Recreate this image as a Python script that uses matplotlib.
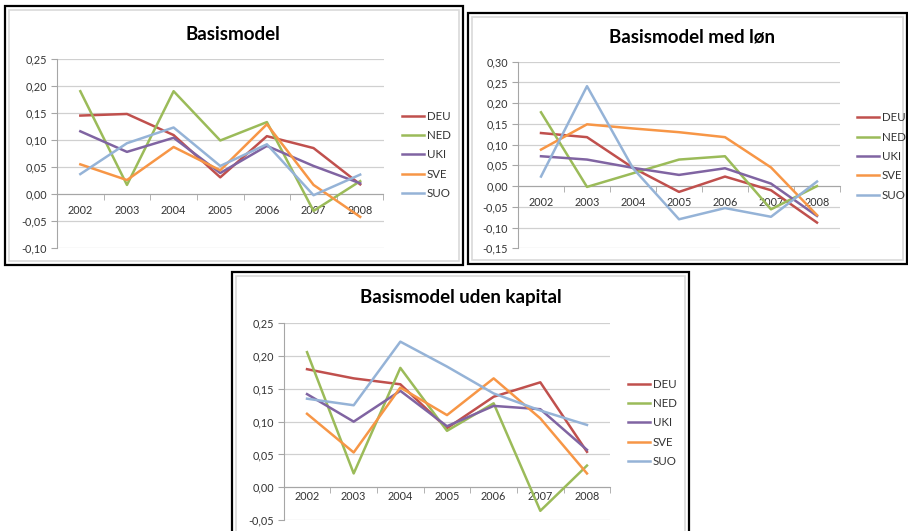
import matplotlib
matplotlib.use("Agg")
import matplotlib.pyplot as plt
import numpy as np
from matplotlib.patches import Rectangle
from matplotlib.ticker import FuncFormatter

plt.rcParams['font.family'] = ['Lato', 'DejaVu Sans']

# data
years = ['2002', '2003', '2004', '2005', '2006', '2007', '2008']
countries = ['DEU', 'NED', 'UKI', 'SVE', 'SUO']
colors = ['#C0504D', '#9BBB59', '#8064A2', '#F79646', '#95B3D7']

# Basismodel
basis = [
    [0.145, 0.148, 0.109, 0.031, 0.107, 0.085, 0.018],   # DEU
    [0.190, 0.017, 0.190, 0.099, 0.133, -0.031, 0.024],  # NED
    [0.116, 0.078, 0.104, 0.039, 0.089, 0.052, 0.020],   # UKI
    [0.055, 0.026, 0.087, 0.044, 0.129, 0.017, -0.042],  # SVE
    [0.037, 0.094, 0.123, 0.052, 0.092, -0.002, 0.036],  # SUO
]

# Basismodel med løn
med_loen = [
    [0.128, 0.118, 0.044, -0.014, 0.023, -0.010, -0.088],
    [0.178, -0.002, 0.031, 0.064, 0.072, -0.056, 0.000],
    [0.072, 0.064, 0.044, 0.027, 0.043, 0.006, -0.072],
    [0.088, 0.149, 0.139, 0.130, 0.118, 0.045, -0.070],
    [0.023, 0.241, 0.043, -0.080, -0.053, -0.074, 0.011],
]

# Basismodel uden kapital
uden_kapital = [
    [0.180, 0.166, 0.157, 0.090, 0.138, 0.160, 0.054],
    [0.206, 0.021, 0.182, 0.086, 0.128, -0.036, 0.033],
    [0.142, 0.100, 0.147, 0.093, 0.124, 0.119, 0.057],
    [0.112, 0.053, 0.152, 0.110, 0.166, 0.105, 0.021],
    [0.135, 0.125, 0.222, 0.184, 0.143, 0.117, 0.095],
]

W, H = 908, 531
fig = plt.figure(figsize=(W / 100, H / 100), dpi=100)
fig.patch.set_facecolor('white')

TICK_FS = 7.8
LEG_FS = 8.3
TITLE_FS = 13.5


def px_axes(l, t, r, b):
    return fig.add_axes([l / W, 1 - b / H, (r - l) / W, (b - t) / H])


def frame(l, t, r, b):
    # black outer box + light grey excel chart border
    fig.patches.append(Rectangle((l / W, 1 - b / H), (r - l) / W, (b - t) / H,
                                 transform=fig.transFigure, fill=False,
                                 ec='black', lw=1.6))
    fig.patches.append(Rectangle(((l + 4) / W, 1 - (b - 4) / H), (r - l - 8) / W, (b - t - 8) / H,
                                 transform=fig.transFigure, fill=False,
                                 ec='#D9D9D9', lw=1.2))


def draw_chart(ax, values, ylo, yhi, label_pad):
    x = np.arange(len(years))
    for name, col, v in zip(countries, colors, values):
        ax.plot(x, v, color=col, lw=1.8, label=name, zorder=3)
    ax.set_xlim(-0.5, len(years) - 0.5)
    ax.set_ylim(ylo, yhi)
    ax.set_yticks(np.arange(ylo, yhi + 0.001, 0.05))
    ax.yaxis.set_major_formatter(FuncFormatter(lambda v, p: f"{v:.2f}".replace('.', ',').replace('-0,00', '0,00')))
    ax.yaxis.grid(True, color='#D0D0D0', lw=0.9)
    ax.set_axisbelow(True)
    for s in ['top', 'right']:
        ax.spines[s].set_visible(False)
    ax.spines['left'].set_color('#A6A6A6')
    ax.spines['bottom'].set_color('#A6A6A6')
    ax.spines['bottom'].set_position(('data', 0))
    ax.set_xticks(x)
    ax.set_xticklabels(years)
    ax.set_xticks(np.arange(-0.5, len(years)), minor=True)
    ax.tick_params(axis='x', which='major', length=0, pad=label_pad, labelsize=TICK_FS, labelcolor='#333333')
    ax.tick_params(axis='x', which='minor', length=4, color='#A6A6A6', direction='out')
    ax.tick_params(axis='y', length=4, color='#A6A6A6', labelsize=TICK_FS, labelcolor='#333333', pad=3)
    ax.patch.set_alpha(0)


def legend_at(ax, x, yc):
    h, lab = ax.get_legend_handles_labels()
    fig.legend(h, lab, loc='center left', bbox_to_anchor=(x / W, 1 - yc / H),
               frameon=False, fontsize=LEG_FS, handlelength=1.9, handletextpad=0.25,
               labelspacing=0.72, borderpad=0, borderaxespad=0, labelcolor='#333333')


# chart 1
frame(5, 6, 463, 265)
ax1 = px_axes(57, 58.7, 383.5, 248.3)
draw_chart(ax1, basis, -0.10, 0.25, 8)
fig.text(233 / W, 1 - 34 / H, 'Basismodel', ha='center', va='center', fontsize=TITLE_FS, fontweight='bold')
legend_at(ax1, 402, 155)

# chart 2
frame(468, 13, 907, 264)
ax2 = px_axes(518, 61.7, 840, 248.3)
draw_chart(ax2, med_loen, -0.15, 0.30, 8)
fig.text(692 / W, 1 - 37 / H, 'Basismodel med løn', ha='center', va='center', fontsize=TITLE_FS, fontweight='bold')
legend_at(ax2, 857, 156.5)

# chart 3 (cut off at the bottom of the picture)
frame(232, 272, 689, 560)
ax3 = px_axes(283.7, 323.3, 610.3, 520)
draw_chart(ax3, uden_kapital, -0.05, 0.25, 3)
fig.text(461 / W, 1 - 298 / H, 'Basismodel uden kapital', ha='center', va='center', fontsize=TITLE_FS, fontweight='bold')
legend_at(ax3, 628, 423)

fig.savefig('out.png', dpi=100)
